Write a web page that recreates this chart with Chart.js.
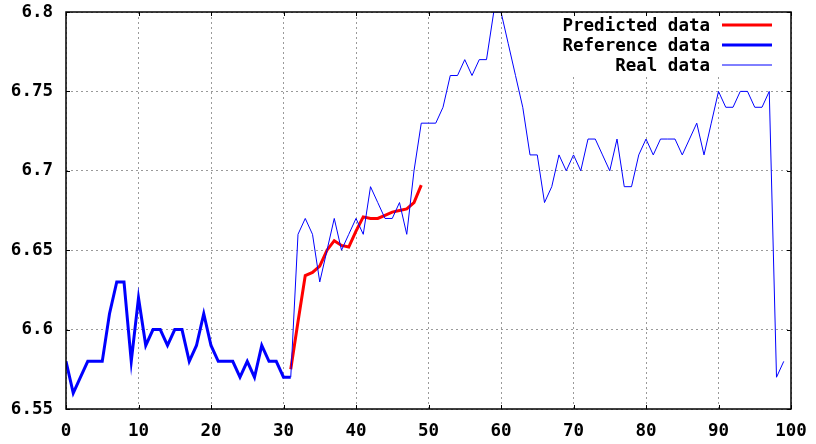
<!DOCTYPE html>
<html>
<head>
<meta charset="utf-8">
<script src="https://cdn.jsdelivr.net/npm/chart.js@4/dist/chart.umd.min.js"></script>
<style>
  html, body { margin: 0; padding: 0; background: #fff; }
  #wrap { width: 816px; height: 444px; }
</style>
</head>
<body>
<div id="wrap"><canvas id="c" width="816" height="444"></canvas></div>
<script>
// Series labels (legend order)
const seriesLabels = ['Predicted data', 'Reference data', 'Real data'];

// Reference series: samples 0..31
const refStart = 0;
const refValues = [
  6.58, 6.56, 6.57, 6.58, 6.58, 6.58, 6.61, 6.63, 6.63, 6.58,
  6.62, 6.59, 6.60, 6.60, 6.59, 6.60, 6.60, 6.58, 6.59, 6.61,
  6.59, 6.58, 6.58, 6.58, 6.57, 6.58, 6.57, 6.59, 6.58, 6.58,
  6.57, 6.57
];

// Real series: samples 31..99
const realStart = 31;
const realValues = [
  6.57, 6.66, 6.67, 6.66, 6.63, 6.65, 6.67, 6.65, 6.66, 6.67,
  6.66, 6.69, 6.68, 6.67, 6.67, 6.68, 6.66, 6.70, 6.73, 6.73,
  6.73, 6.74, 6.76, 6.76, 6.77, 6.76, 6.77, 6.77, 6.80, 6.80,
  6.78, 6.76, 6.74, 6.71, 6.71, 6.68, 6.69, 6.71, 6.70, 6.71,
  6.70, 6.72, 6.72, 6.71, 6.70, 6.72, 6.69, 6.69, 6.71, 6.72,
  6.71, 6.72, 6.72, 6.72, 6.71, 6.72, 6.73, 6.71, 6.73, 6.75,
  6.74, 6.74, 6.75, 6.75, 6.74, 6.74, 6.75, 6.57, 6.58
];

// Predicted series: samples 31..49
const predStart = 31;
const predValues = [
  6.575, 6.605, 6.634, 6.636, 6.640, 6.650, 6.656, 6.653, 6.652, 6.662,
  6.671, 6.670, 6.670, 6.672, 6.674, 6.675, 6.676, 6.680, 6.691
];

// Axis tick labels
const xTickLabels = ['0', '10', '20', '30', '40', '50', '60', '70', '80', '90', '100'];
const yTickLabels = ['6.55', '6.6', '6.65', '6.7', '6.75', '6.8'];

const toPoints = (start, values) => values.map((v, i) => ({ x: start + i, y: v }));

const monoFont = { family: "'DejaVu Sans Mono', 'Liberation Mono', monospace", size: 17.5, weight: 'bold' };

// Frame, inward tick marks and the gnuplot-style legend
const framePlugin = {
  id: 'framePlugin',
  afterDraw(chart) {
    const { ctx, chartArea: a, scales } = chart;
    ctx.save();

    // legend background
    const boxLeft = a.right - 243;
    ctx.fillStyle = '#fff';
    ctx.fillRect(boxLeft, a.top + 1, a.right - boxLeft - 1, 61);

    // legend entries: right-aligned text, then a line sample
    ctx.font = `bold ${monoFont.size}px ${monoFont.family}`;
    ctx.textAlign = 'right';
    ctx.textBaseline = 'middle';
    chart.data.datasets.forEach((ds, i) => {
      const y = a.top + 13 + i * 20;
      ctx.fillStyle = '#000';
      ctx.fillText(ds.label, a.right - 81, y + 1);
      ctx.strokeStyle = ds.borderColor;
      ctx.lineWidth = ds.borderWidth;
      ctx.beginPath();
      ctx.moveTo(a.right - 69, y);
      ctx.lineTo(a.right - 19, y);
      ctx.stroke();
    });

    // tick marks pointing into the plot on every side
    ctx.strokeStyle = '#000';
    ctx.lineWidth = 1;
    ctx.beginPath();
    scales.x.ticks.forEach(t => {
      const px = Math.round(scales.x.getPixelForValue(t.value)) + 0.5;
      ctx.moveTo(px, a.top); ctx.lineTo(px, a.top + 4);
      ctx.moveTo(px, a.bottom); ctx.lineTo(px, a.bottom - 4);
    });
    scales.y.ticks.forEach(t => {
      const py = Math.round(scales.y.getPixelForValue(t.value)) + 0.5;
      ctx.moveTo(a.left, py); ctx.lineTo(a.left + 4, py);
      ctx.moveTo(a.right, py); ctx.lineTo(a.right - 4, py);
    });
    ctx.stroke();

    // plot border
    ctx.lineWidth = 1.5;
    ctx.strokeRect(a.left, a.top, a.right - a.left, a.bottom - a.top);
    ctx.restore();
  }
};

new Chart(document.getElementById('c'), {
  type: 'line',
  data: {
    datasets: [
      {
        label: seriesLabels[0],
        data: toPoints(predStart, predValues),
        borderColor: '#ff0000',
        borderWidth: 3,
        order: 2
      },
      {
        label: seriesLabels[1],
        data: toPoints(refStart, refValues),
        borderColor: '#0000ff',
        borderWidth: 3,
        order: 1
      },
      {
        label: seriesLabels[2],
        data: toPoints(realStart, realValues),
        borderColor: '#0000ff',
        borderWidth: 1,
        order: 0
      }
    ]
  },
  options: {
    responsive: false,
    animation: false,
    devicePixelRatio: 1,
    layout: { padding: { top: 12, right: 25, left: 0, bottom: 0 } },
    elements: {
      point: { radius: 0, hoverRadius: 0 },
      line: { tension: 0, fill: false, borderJoinStyle: 'miter', borderCapStyle: 'butt' }
    },
    plugins: {
      legend: { display: false },
      tooltip: { enabled: false }
    },
    scales: {
      x: {
        type: 'linear',
        min: 0,
        max: 100,
        afterFit(scale) {
          scale.height = 35;
          scale.paddingLeft = 0;
          scale.paddingRight = 0;
        },
        ticks: {
          stepSize: 10,
          padding: 12,
          color: '#000',
          font: monoFont,
          maxRotation: 0,
          callback: (v) => xTickLabels[Math.round(v / 10)]
        },
        grid: { color: '#9a9a9a', lineWidth: 1, drawTicks: false },
        border: { display: false, dash: [2, 3] }
      },
      y: {
        type: 'linear',
        min: 6.55,
        max: 6.8,
        afterFit(scale) {
          scale.width = 66;
          scale.paddingTop = 0;
          scale.paddingBottom = 0;
        },
        ticks: {
          stepSize: 0.05,
          padding: 13,
          color: '#000',
          font: monoFont,
          callback: (v) => yTickLabels[Math.round((v - 6.55) / 0.05)]
        },
        grid: { color: '#9a9a9a', lineWidth: 1, drawTicks: false },
        border: { display: false, dash: [2, 3] }
      }
    }
  },
  plugins: [framePlugin]
});
</script>
</body>
</html>
